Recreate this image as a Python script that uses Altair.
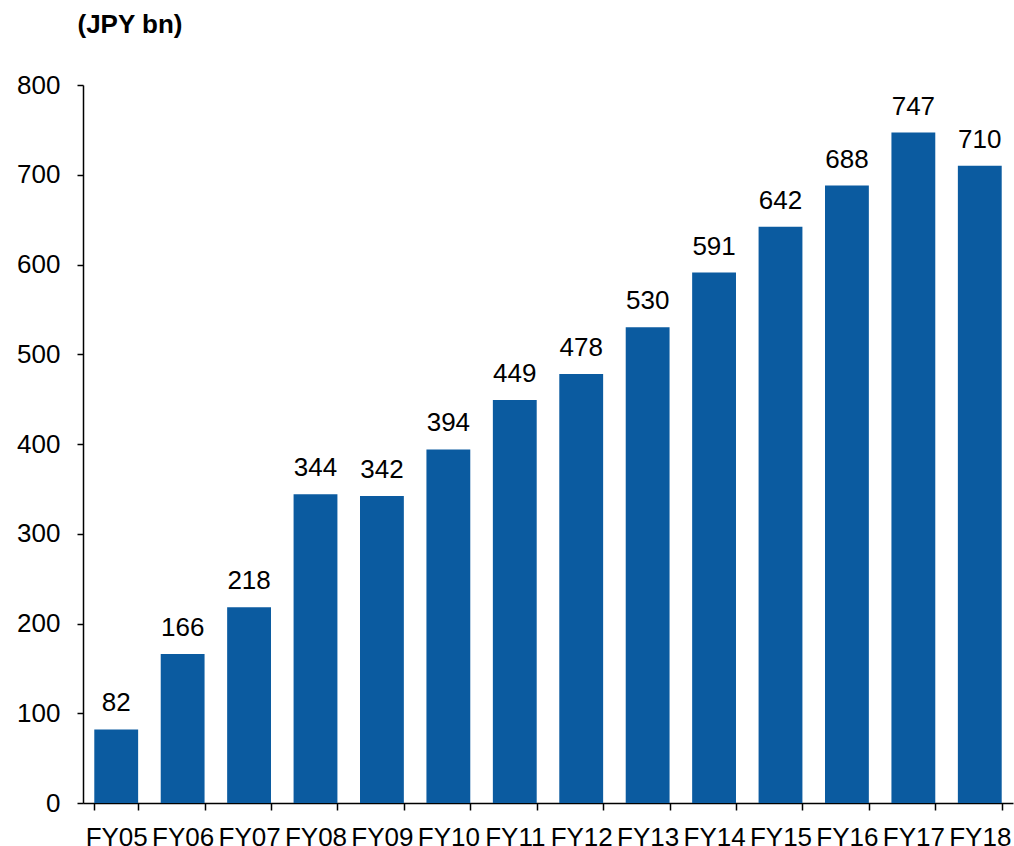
import altair as alt
import pandas as pd

years = ["FY05", "FY06", "FY07", "FY08", "FY09", "FY10", "FY11",
         "FY12", "FY13", "FY14", "FY15", "FY16", "FY17", "FY18"]
values = [82, 166, 218, 344, 342, 394, 449, 478, 530, 591, 642, 688, 747, 710]

df = pd.DataFrame({"year": years, "value": values})

FONT = "Liberation Sans"

x = alt.X("year:N", sort=years, title=None,
          scale=alt.Scale(paddingInner=0.34, paddingOuter=0.17),
          axis=alt.Axis(labelAngle=0, tickBand="extent", tickSize=7,
                        tickColor="black", domainColor="black",
                        domainWidth=1.5, tickWidth=1.5,
                        labelFontSize=26, labelColor="black", labelFont=FONT,
                        labelPadding=14, labelOverlap=False))
y = alt.Y("value:Q", title="(JPY bn)",
          scale=alt.Scale(domain=[0, 800], nice=False),
          axis=alt.Axis(values=list(range(0, 801, 100)), grid=False,
                        tickSize=6, tickColor="black", domainColor="black",
                        domainWidth=1.5, tickWidth=1.5,
                        labelFontSize=26, labelColor="black", labelFont=FONT,
                        labelPadding=17,
                        titleAngle=0, titleAlign="left", titleBaseline="alphabetic",
                        titleX=-6, titleY=-53, titleFontSize=26,
                        titleFont=FONT, titleFontWeight="bold", titleColor="black"))

bars = alt.Chart(df).mark_bar(color="#0B5BA0").encode(x=x, y=y)
labels = alt.Chart(df).mark_text(fontSize=26, font=FONT, color="black",
                                 baseline="alphabetic", dy=-18).encode(
    x=alt.X("year:N", sort=years), y="value:Q", text="value:Q")

chart = alt.layer(bars, labels).properties(
    width=930, height=718,
    autosize=alt.AutoSizeParams(type="none"),
    padding={"left": 83, "top": 85, "right": 1, "bottom": 43},
    background="white",
).configure_view(stroke=None)

chart.save("out.html", embed_options={"renderer": "svg", "actions": False})
